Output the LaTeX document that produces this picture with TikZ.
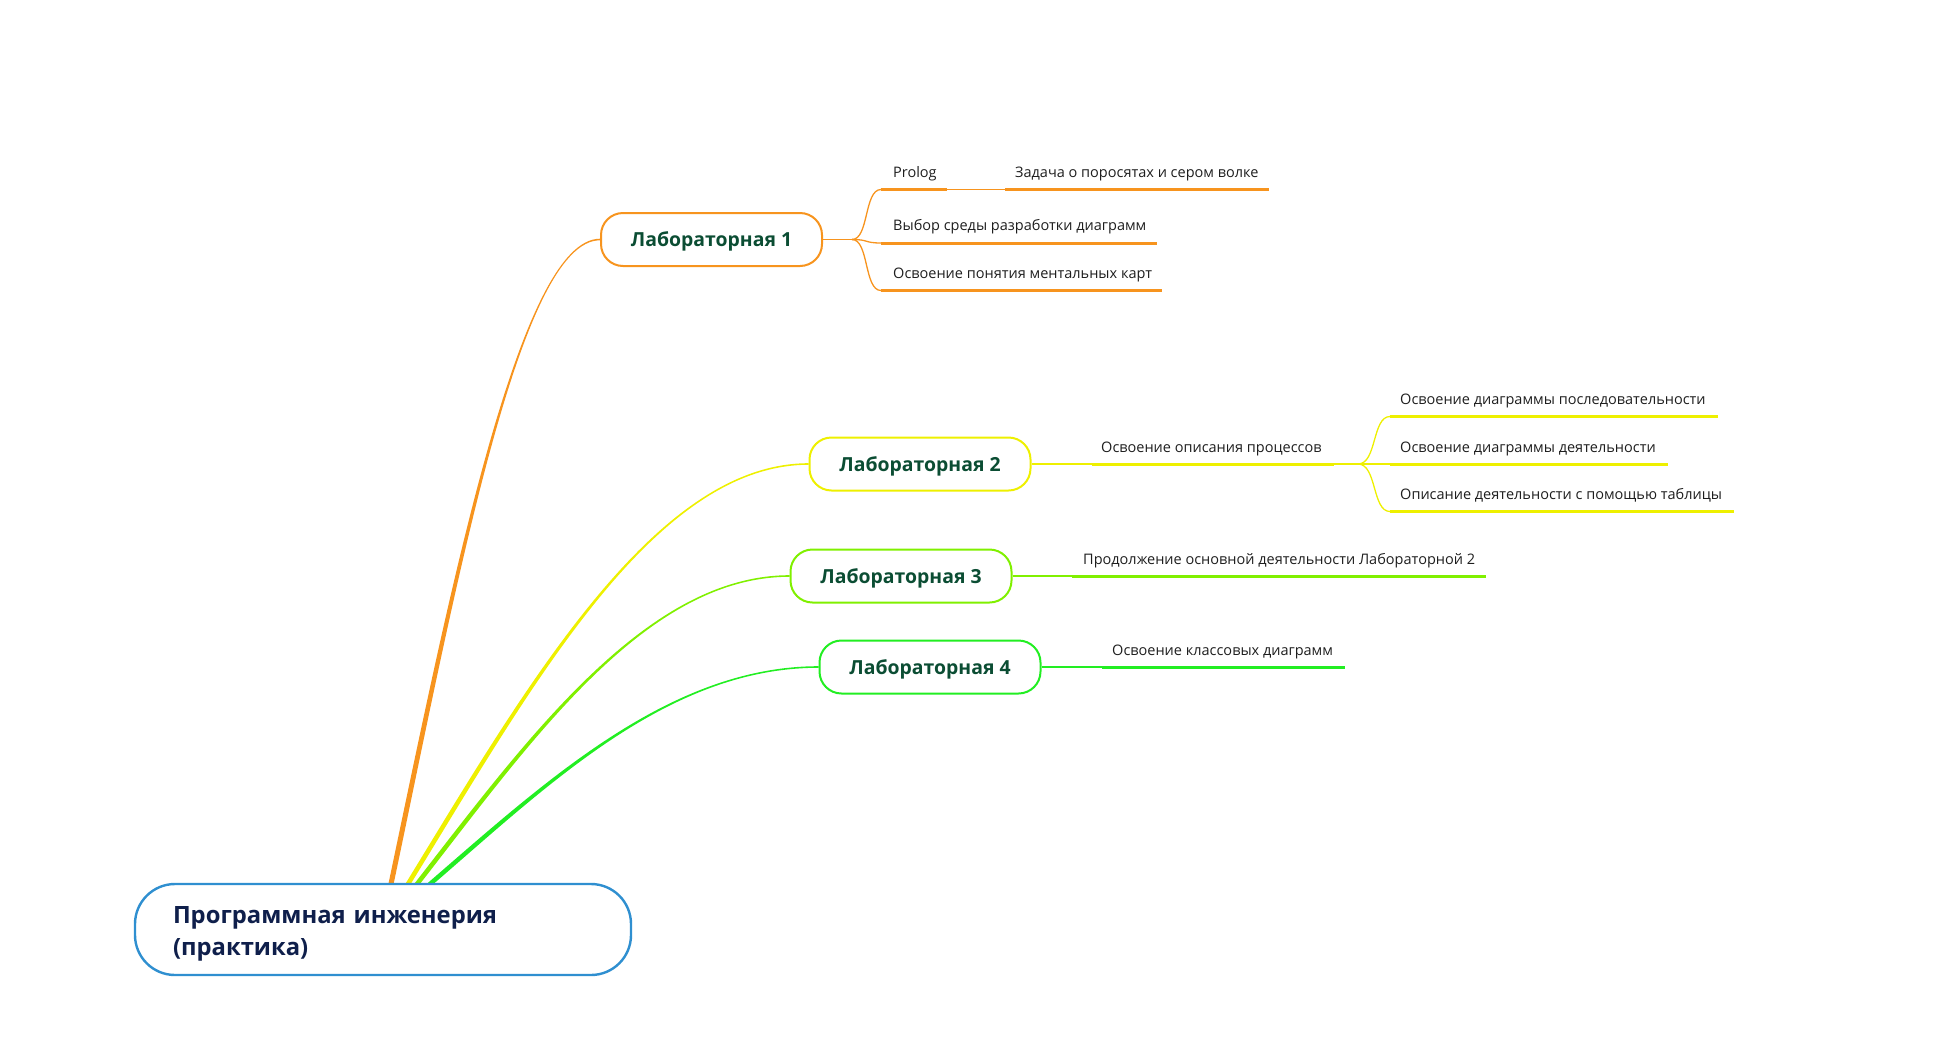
\documentclass[tikz,border=0pt]{standalone}
\usepackage{fontspec}
\setmainfont{Open Sans}
\usetikzlibrary{calc}

\definecolor{cOrange}{HTML}{F7941E}
\definecolor{cYellow}{HTML}{EEF000}
\definecolor{cLime}{HTML}{80F000}
\definecolor{cGreen}{HTML}{22EE22}
\definecolor{cRoot}{HTML}{2F8FD0}
\definecolor{rootText}{HTML}{0F1F4B}
\definecolor{labText}{HTML}{0B4D33}
\definecolor{leafText}{HTML}{1E1E1E}

% tapered main branch: colour, start, control 1, control 2, end, half width at start
\newcommand\branchfill[6]{%
  \fill[#1] ($(#2)+(-#6,0)$) .. controls ($(#3)+(-#6,0)$) and ($(#4)+(0,-0.8)$) .. ($(#5)+(0,-0.8)$)
    -- ($(#5)+(0,0.8)$) .. controls ($(#4)+(0,0.8)$) and ($(#3)+(#6,0)$) .. ($(#2)+(#6,0)$) -- cycle;}

\tikzset{
  rootbox/.style={draw=cRoot, line width=2.4pt, fill=white, rounded corners=40pt,
    minimum width=496pt, minimum height=91pt, inner sep=0pt},
  roottext/.style={text width=420pt, align=left, inner sep=0pt, text=rootText,
    font=\fontsize{23.8}{32}\selectfont\bfseries},
  labbox/.style={draw=#1, line width=2pt, fill=white, rounded corners=22pt,
    minimum width=221pt, minimum height=53pt, inner sep=0pt, text depth=0pt,
    text=labText, font=\fontsize{19.4}{24}\selectfont\bfseries},
  leaf/.style={anchor=base west, inner sep=0pt, text=leafText,
    font=\fontsize{14.5}{17}\selectfont},
  uline/.style={draw=#1, line width=3pt},
  twig/.style={draw=#1, line width=1.3pt},
}

\begin{document}
\begin{tikzpicture}[x=1pt, y=-1pt]
\useasboundingbox (0,0) rectangle (1955,1047);

% topic nodes
\node[labbox=cOrange] (lab1) at (711.5,239.5) {Лабораторная 1};
\node[labbox=cYellow] (lab2) at (920,464) {Лабораторная 2};
\node[labbox=cLime]   (lab3) at (901,576) {Лабораторная 3};
\node[labbox=cGreen]  (lab4) at (930,667) {Лабораторная 4};

% branch roots on the central topic
\coordinate (s1) at (391,884);
\coordinate (s2) at (408,884);
\coordinate (s3) at (417,884);
\coordinate (s4) at (430,884);

\branchfill{cOrange}{s1}{454,584}{520,239.5}{lab1.west}{2.6}
\branchfill{cYellow}{s2}{528,688}{654,464}{lab2.west}{2.7}
\branchfill{cLime}{s3}{529,740}{646,576}{lab3.west}{2.9}
\branchfill{cGreen}{s4}{547,783}{669,667}{lab4.west}{3.4}

% central topic
\node[rootbox] (root) at (383,929.5) {};
\node[roottext] (roottitle) at ($(root.center)+(0,4)$) {Программная инженерия\\(практика)};

% ---- Лабораторная 1
\coordinate (f1) at (852,239.5);
\coordinate (a1s) at (881,189.5);  \coordinate (a1e) at (947,189.5);
\coordinate (a2s) at (1005,189.5); \coordinate (a2e) at (1269,189.5);
\coordinate (b1s) at (881,243);    \coordinate (b1e) at (1157,243);
\coordinate (c1s) at (881,290.5);  \coordinate (c1e) at (1162,290.5);
\draw[twig=cOrange] (lab1.east) -- (f1);
\draw[twig=cOrange] (f1) .. controls (869,239.5) and (864,189.5) .. (a1s);
\draw[twig=cOrange] (f1) .. controls (869,239.5) and (864,243) .. (b1s);
\draw[twig=cOrange] (f1) .. controls (869,239.5) and (864,290.5) .. (c1s);
\draw[uline=cOrange] (a1s) -- (a1e);
\draw[twig=cOrange] (a1e) -- (a2s);
\draw[uline=cOrange] (a2s) -- (a2e);
\draw[uline=cOrange] (b1s) -- (b1e);
\draw[uline=cOrange] (c1s) -- (c1e);
\node[leaf] (prolog) at (893,177) {Prolog};
\node[leaf] (wolf) at (1015,177) {Задача о поросятах и сером волке};
\node[leaf] (env) at (893,230.5) {Выбор среды разработки диаграмм};
\node[leaf] (maps) at (893,278) {Освоение понятия ментальных карт};

% ---- Лабораторная 2
\coordinate (d1s) at (1092,464); \coordinate (d1e) at (1334,464);
\coordinate (f2) at (1358,464);
\coordinate (e1s) at (1390,416.5); \coordinate (e1e) at (1718,416.5);
\coordinate (e2s) at (1390,464);   \coordinate (e2e) at (1668,464);
\coordinate (e3s) at (1390,511.5); \coordinate (e3e) at (1734,511.5);
\draw[twig=cYellow] (lab2.east) -- (d1s);
\draw[uline=cYellow] (d1s) -- (d1e);
\draw[twig=cYellow] (d1e) -- (f2);
\draw[twig=cYellow] (f2) .. controls (1377,464) and (1372,416.5) .. (e1s);
\draw[twig=cYellow] (f2) -- (e2s);
\draw[twig=cYellow] (f2) .. controls (1377,464) and (1372,511.5) .. (e3s);
\draw[uline=cYellow] (e1s) -- (e1e);
\draw[uline=cYellow] (e2s) -- (e2e);
\draw[uline=cYellow] (e3s) -- (e3e);
\node[leaf] (proc) at (1101,452) {Освоение описания процессов};
\node[leaf] (seq) at (1400,404) {Освоение диаграммы последовательности};
\node[leaf] (act) at (1400,452) {Освоение диаграммы деятельности};
\node[leaf] (tab) at (1400,499) {Описание деятельности с помощью таблицы};

% ---- Лабораторная 3
\coordinate (g1s) at (1072,576); \coordinate (g1e) at (1486,576);
\draw[twig=cLime] (lab3.east) -- (g1s);
\draw[uline=cLime] (g1s) -- (g1e);
\node[leaf] (cont) at (1083,564) {Продолжение основной деятельности Лабораторной 2};

% ---- Лабораторная 4
\coordinate (h1s) at (1102,667); \coordinate (h1e) at (1345,667);
\draw[twig=cGreen] (lab4.east) -- (h1s);
\draw[uline=cGreen] (h1s) -- (h1e);
\node[leaf] (cls) at (1112,655) {Освоение классовых диаграмм};
\end{tikzpicture}
\end{document}
